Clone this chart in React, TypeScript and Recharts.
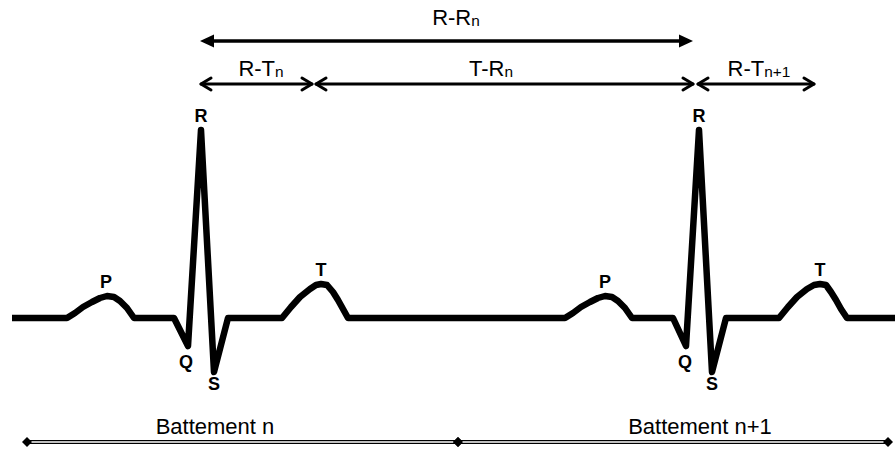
import { LineChart, Line, XAxis, YAxis, ReferenceLine, ReferenceDot } from 'recharts'

// ECG trace: time (px-like units) and amplitude above the isoelectric line
const traceT = [
  12, 67, 75, 83, 92, 100, 107, 114, 120, 127, 134, 174, 188, 201, 214, 228,
  282, 291, 300, 310, 316, 321, 327, 333, 338, 343, 348,
  565, 573, 581, 590, 598, 605, 612, 618, 625, 632, 673, 686, 699, 712, 726,
  779, 788, 797, 807, 814, 820, 826, 831, 836, 841, 847, 895,
]
const traceAmp = [
  0, 0, 5, 11, 16, 20, 22, 21, 17, 10, 0, 0, -28, 188, -54, 0,
  0, 11, 21, 29, 33, 34, 33, 26, 18, 9, 0,
  0, 5, 11, 16, 20, 22, 21, 17, 10, 0, 0, -28, 188, -54, 0,
  0, 11, 21, 29, 33, 34, 33, 26, 18, 9, 0, 0,
]

// wave letters
const waveNames = ['P', 'Q', 'R', 'S', 'T', 'P', 'Q', 'R', 'S', 'T']
const waveX = [106, 186, 201, 214, 321, 605, 685, 699, 712, 820]
const waveY = [30, -50, 196, -72, 42, 30, -50, 196, -72, 42]

// interval arrows
const spanMain = ['R-R', 'R-T', 'T-R', 'R-T']
const spanSub = ['n', 'n', 'n', 'n+1']
const spanFrom = [200, 200, 315, 697]
const spanTo = [693, 313, 694, 815]
const spanLevel = [277, 234, 234, 234]
const spanHead = ['solid', 'open', 'open', 'open']
const spanTextX = [456, 261, 491, 759]
const spanTextY = [293, 242, 242, 242]

// beats along the bottom
const beatNames = ['Battement n', 'Battement n+1']
const beatFrom = [27, 458]
const beatTo = [458, 888]
const beatLevel = -124
const beatTextX = [215, 700]
const beatTextY = -116

const data = traceT.map((t, i) => ({ t, amp: traceAmp[i] }))

const FONT = '"Liberation Sans", Arial, Helvetica, sans-serif'

function arrowShape(kind: string) {
  return (p: any) => {
    const { x1, y1, x2, y2 } = p
    if (kind === 'solid') {
      const L = 14
      const H = 6.5
      return (
        <g>
          <line x1={x1 + 4} y1={y1} x2={x2 - 4} y2={y2} stroke="#000" strokeWidth={3.4} />
          <polygon points={`${x1},${y1} ${x1 + L},${y1 - H} ${x1 + L},${y1 + H}`} fill="#000" />
          <polygon points={`${x2},${y2} ${x2 - L},${y2 - H} ${x2 - L},${y2 + H}`} fill="#000" />
        </g>
      )
    }
    const L = 11
    const H = 6
    return (
      <g fill="none" stroke="#000" strokeWidth={3} strokeLinecap="round" strokeLinejoin="round">
        <line x1={x1 + 1} y1={y1} x2={x2 - 1} y2={y2} />
        <polyline points={`${x1 + L},${y1 - H} ${x1 + 1},${y1} ${x1 + L},${y1 + H}`} />
        <polyline points={`${x2 - L},${y2 - H} ${x2 - 1},${y2} ${x2 - L},${y2 + H}`} />
      </g>
    )
  }
}

function beatShape(p: any) {
  const { x1, y1, x2 } = p
  const d = 5
  const diamond = (x: number) => `${x - d},${y1} ${x},${y1 - d} ${x + d},${y1} ${x},${y1 + d}`
  return (
    <g>
      <line x1={x1} y1={y1} x2={x2} y2={y1} stroke="#000" strokeWidth={4} />
      <line x1={x1} y1={y1} x2={x2} y2={y1} stroke="#fff" strokeWidth={1.4} />
      <polygon points={diamond(x1)} fill="#000" />
      <polygon points={diamond(x2)} fill="#000" />
    </g>
  )
}

function textShape(main: string, sub: string, size: number, bold: boolean) {
  return (p: any) => (
    <text
      x={p.cx}
      y={p.cy}
      textAnchor="middle"
      fontFamily={FONT}
      fontSize={size}
      fontWeight={bold ? 'bold' : 'normal'}
      fill="#000"
    >
      {main}
      {sub ? (
        <tspan fontSize={size * 0.7} dy={1}>
          {sub}
        </tspan>
      ) : null}
    </text>
  )
}

export default function App() {
  return (
    <div style={{ position: 'absolute', left: 0, top: 0, background: '#fff' }}>
      <LineChart width={895} height={451} data={data} margin={{ top: 0, right: 0, bottom: 0, left: 0 }}>
        <XAxis dataKey="t" type="number" domain={[0, 895]} hide />
        <YAxis type="number" domain={[-133, 318]} hide />
        <Line
          dataKey="amp"
          type="linear"
          stroke="#000"
          strokeWidth={6.5}
          strokeLinejoin="round"
          dot={false}
          activeDot={false}
          isAnimationActive={false}
        />
        {spanMain.map((m, i) => (
          <ReferenceLine
            key={'s' + i}
            segment={[
              { x: spanFrom[i], y: spanLevel[i] },
              { x: spanTo[i], y: spanLevel[i] },
            ]}
            shape={arrowShape(spanHead[i])}
          />
        ))}
        {spanMain.map((m, i) => (
          <ReferenceDot key={'st' + i} x={spanTextX[i]} y={spanTextY[i]} shape={textShape(m, spanSub[i], 22, false)} />
        ))}
        {waveNames.map((w, i) => (
          <ReferenceDot key={'w' + i} x={waveX[i]} y={waveY[i]} shape={textShape(w, '', 18, true)} />
        ))}
        {beatNames.map((b, i) => (
          <ReferenceLine
            key={'b' + i}
            segment={[
              { x: beatFrom[i], y: beatLevel },
              { x: beatTo[i], y: beatLevel },
            ]}
            shape={beatShape}
          />
        ))}
        {beatNames.map((b, i) => (
          <ReferenceDot key={'bt' + i} x={beatTextX[i]} y={beatTextY} shape={textShape(b, '', 22, false)} />
        ))}
      </LineChart>
    </div>
  )
}
